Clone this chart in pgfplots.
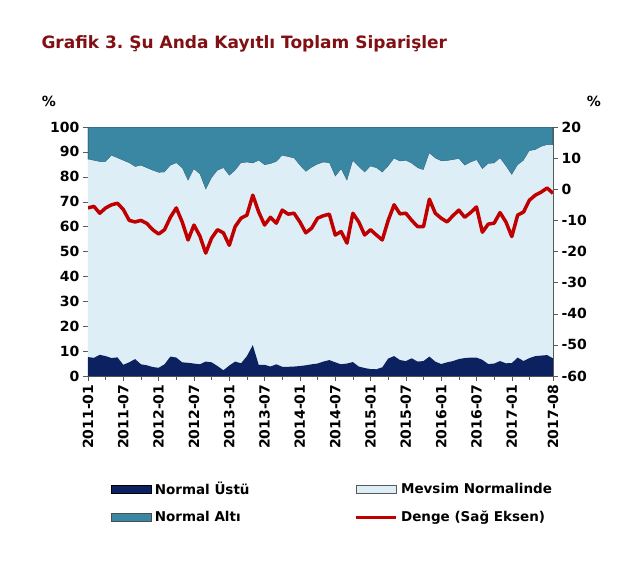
\documentclass[border=0pt]{standalone}
\usepackage{fontspec}
\setmainfont{DejaVu Sans}
\usepackage{pgfplots}
\usepackage{pgfplotstable}
\pgfplotsset{compat=1.18}
\frenchspacing

\definecolor{ustu}{RGB}{11,33,96}
\definecolor{mevsim}{RGB}{222,238,246}
\definecolor{alti}{RGB}{58,135,164}
\definecolor{altiedge}{RGB}{32,78,98}
\definecolor{denge}{RGB}{192,0,0}
\definecolor{baslik}{RGB}{128,16,20}

% m: ay (0 = 2011-01), U: Normal Ustu, M: Mevsim Normalinde, A: Normal Alti, D: Denge
\pgfplotstableread{
m U M A D
0 7.6 79.4 13.0 -6.0
1 7.3 79.2 13.5 -5.5
2 8.5 77.5 14.0 -7.7
3 8.0 78.0 14.0 -6.0
4 7.2 81.3 11.5 -5.0
5 7.5 80.0 12.5 -4.5
6 4.5 82.0 13.5 -6.5
7 5.5 80.0 14.5 -10.0
8 6.8 77.2 16.0 -10.5
9 4.7 79.8 15.5 -10.0
10 4.3 79.2 16.5 -11.0
11 3.6 78.9 17.5 -13.0
12 3.3 78.4 18.3 -14.4
13 4.7 77.1 18.2 -13.0
14 7.8 76.7 15.5 -9.0
15 7.4 78.1 14.5 -6.0
16 5.5 77.9 16.6 -10.5
17 5.3 73.0 21.7 -16.3
18 5.0 78.0 17.0 -11.5
19 4.7 76.3 19.0 -15.0
20 5.8 68.9 25.3 -20.5
21 5.5 74.0 20.5 -15.7
22 4.0 78.5 17.5 -13.0
23 2.3 81.2 16.5 -14.0
24 4.2 76.2 19.6 -18.0
25 5.8 76.7 17.5 -12.0
26 5.1 80.4 14.5 -9.3
27 8.0 77.8 14.2 -8.3
28 12.4 73.0 14.6 -1.9
29 4.5 82.0 13.5 -7.3
30 4.5 80.2 15.3 -11.5
31 3.8 81.4 14.8 -9.0
32 4.7 81.3 14.0 -10.9
33 3.7 84.8 11.5 -6.7
34 3.7 84.3 12.0 -8.0
35 3.8 83.6 12.6 -7.7
36 4.0 80.5 15.5 -10.5
37 4.3 77.7 18.0 -14.0
38 4.7 79.0 16.3 -12.5
39 5.0 80.0 15.0 -9.3
40 5.8 80.0 14.2 -8.5
41 6.4 79.1 14.5 -8.0
42 5.5 74.5 20.0 -14.7
43 4.7 78.3 17.0 -13.6
44 5.0 73.3 21.7 -17.3
45 5.6 80.7 13.7 -7.7
46 3.8 80.2 16.0 -10.5
47 3.2 78.5 18.3 -14.7
48 2.8 81.4 15.8 -13.0
49 2.7 80.8 16.5 -14.7
50 3.5 78.2 18.3 -16.3
51 7.0 77.2 15.8 -10.0
52 8.0 79.3 12.7 -5.0
53 6.4 79.8 13.8 -7.9
54 6.0 80.5 13.5 -7.7
55 7.1 78.2 14.7 -10.0
56 5.8 77.7 16.5 -12.0
57 6.0 76.7 17.3 -12.0
58 7.8 81.6 10.6 -3.2
59 5.8 81.6 12.6 -7.7
60 4.8 81.5 13.7 -9.3
61 5.5 80.9 13.6 -10.5
62 6.0 80.8 13.2 -8.5
63 6.8 80.4 12.8 -6.7
64 7.2 77.3 15.5 -9.0
65 7.4 78.4 14.2 -7.5
66 7.4 79.3 13.3 -5.7
67 6.5 76.5 17.0 -13.8
68 4.8 80.5 14.7 -11.2
69 5.0 80.4 14.6 -10.9
70 6.0 81.4 12.6 -7.5
71 5.1 79.1 15.8 -10.5
72 5.2 75.5 19.3 -15.2
73 7.4 77.3 15.3 -8.3
74 6.0 80.5 13.5 -7.3
75 7.2 83.2 9.6 -3.5
76 8.0 82.8 9.2 -1.9
77 8.2 83.9 7.9 -0.9
78 8.4 84.4 7.2 0.4
79 7.1 85.7 7.2 -1.3
}\veriler

\begin{document}
\begin{tikzpicture}[x=1pt,y=1pt]
\fill[white] (0,0) rectangle (640,566);
\node[anchor=west, text=baslik, font=\bfseries\fontsize{17}{20}\selectfont] at (38,522) {Grafik 3. Şu Anda Kayıtlı Toplam Siparişler};
\node[font=\bfseries\fontsize{14}{16}\selectfont] at (49,465) {\%};
\node[font=\bfseries\fontsize{14}{16}\selectfont] at (594,465) {\%};

\begin{axis}[
    at={(88pt,190pt)}, anchor=south west,
    width=465pt, height=249pt, scale only axis,
    xmin=0, xmax=79, ymin=0, ymax=100,
    stack plots=y,
    ytick={0,10,...,100}, ytick pos=left,
    xtick={0,6,...,72,79}, xtick pos=bottom,
    minor xtick={3,9,...,75},
    xticklabels={2011-01,2011-07,2012-01,2012-07,2013-01,2013-07,2014-01,2014-07,2015-01,2015-07,2016-01,2016-07,2017-01,2017-08},
    xticklabel style={rotate=90, anchor=east},
    tick align=outside,
    major tick length=5pt, minor tick length=4pt,
    every tick/.style={gray!70!black},
    axis line style={gray!70!black},
    tick label style={font=\bfseries\fontsize{14}{16}\selectfont},
    /pgf/number format/assume math mode=true,
    legend columns=2,
    legend cell align=left,
    legend style={at={(0.043,-0.41)}, anchor=north west, draw=none, fill=none,
        font=\bfseries\fontsize{13.5}{16}\selectfont,
        /tikz/every odd column/.append style={column sep=1pt},
        /tikz/every even column/.append style={column sep=103pt},
        row sep=11pt},
    legend image code/.code={\draw[#1] (0pt,-4pt) rectangle (40pt,4pt);},
]
\addplot[fill=ustu, draw=none] table[x=m, y=U] {\veriler} \closedcycle;
\addlegendentry{Normal Üstü}
\addplot[fill=mevsim, draw=none, legend image code/.code={\draw[fill=mevsim, draw=gray!70!black] (0pt,-4pt) rectangle (40pt,4pt);}] table[x=m, y=M] {\veriler} \closedcycle;
\addlegendentry{Mevsim Normalinde}
\addplot[fill=alti, draw=altiedge, line width=0.6pt, legend image code/.code={\draw[fill=alti, draw=gray!60!black] (0pt,-4pt) rectangle (40pt,4pt);}] table[x=m, y=A] {\veriler} \closedcycle;
\addlegendentry{Normal Altı}
\addlegendimage{legend image code/.code={\draw[denge, line width=3.5pt] (0pt,0pt) -- (40pt,0pt);}}
\addlegendentry{Denge (Sağ Eksen)}
\end{axis}

\begin{axis}[
    at={(88pt,190pt)}, anchor=south west,
    width=465pt, height=249pt, scale only axis,
    xmin=0, xmax=79, ymin=-60, ymax=20,
    axis x line=none, axis y line*=right,
    ytick={-60,-50,...,20},
    tick align=outside, major tick length=5pt,
    every tick/.style={gray!70!black},
    axis line style={gray!70!black},
    tick label style={font=\bfseries\fontsize{14}{16}\selectfont},
    /pgf/number format/assume math mode=true,
]
\addplot[denge, line width=3.5pt, line join=round, mark=none] table[x=m, y=D] {\veriler};
\end{axis}
\end{tikzpicture}
\end{document}
